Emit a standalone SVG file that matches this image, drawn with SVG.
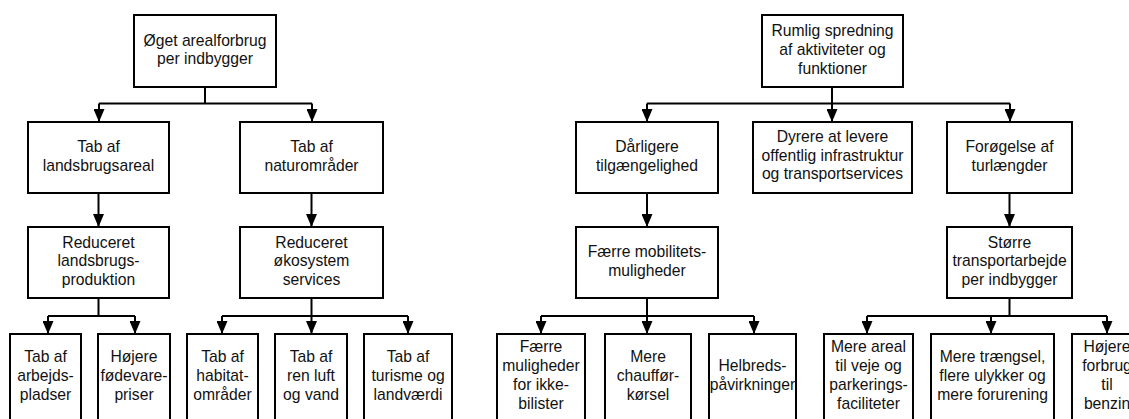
<svg xmlns="http://www.w3.org/2000/svg" width="1129" height="419" viewBox="0 0 1129 419">
  <defs>
    <marker id="arrow" markerUnits="userSpaceOnUse" markerWidth="13" markerHeight="11" viewBox="0 0 13 11" refX="13" refY="5.5" orient="auto">
      <path d="M0,0 L13,5.5 L0,11 z" fill="#000"/>
    </marker>
    <style>
      .box { fill: #fff; stroke: #000; stroke-width: 2; }
      .lbl { font-family: "Liberation Sans", Arial, sans-serif; font-size: 15.7px; fill: #111; text-anchor: middle; }
      .wire { fill: none; stroke: #000; stroke-width: 2; }
      .arr { fill: none; stroke: #000; stroke-width: 2; marker-end: url(#arrow); }
    </style>
  </defs>
  <rect width="1129" height="419" fill="#fff"/>

  <!-- connectors -->
  <g id="connectors">
    <!-- left tree -->
    <path class="wire" d="M205,87 V103.5 M99,103.5 H312"/>
    <path class="arr" d="M99,103.5 V122"/>
    <path class="arr" d="M312,103.5 V122"/>
    <path class="arr" d="M98.5,193 V227"/>
    <path class="arr" d="M311.5,193 V227"/>
    <path class="wire" d="M98.5,298 V316 M48,316 H135"/>
    <path class="arr" d="M48,316 V334"/>
    <path class="arr" d="M135,316 V334"/>
    <path class="wire" d="M311.5,298 V316 M222,316 H408"/>
    <path class="arr" d="M222,316 V334"/>
    <path class="arr" d="M311.5,316 V334"/>
    <path class="arr" d="M408,316 V334"/>
    <!-- right tree -->
    <path class="wire" d="M832,87 V103.5 M647,103.5 H1010"/>
    <path class="arr" d="M647,103.5 V122"/>
    <path class="arr" d="M832,103.5 V122"/>
    <path class="arr" d="M1010,103.5 V122"/>
    <path class="arr" d="M647,193 V227"/>
    <path class="arr" d="M1009.5,193 V227"/>
    <path class="wire" d="M647,298 V316 M541,316 H754"/>
    <path class="arr" d="M541,316 V334"/>
    <path class="arr" d="M647,316 V334"/>
    <path class="arr" d="M754,316 V334"/>
    <path class="wire" d="M1009.5,298 V316 M867,316 H1107"/>
    <path class="arr" d="M867,316 V334"/>
    <path class="arr" d="M991,316 V334"/>
    <path class="arr" d="M1107,316 V334"/>
  </g>

  <!-- left tree nodes -->
  <g id="n-areal">
    <rect class="box" x="134" y="15" width="142" height="72"/>
    <text class="lbl" x="205" y="46">Øget arealforbrug</text>
    <text class="lbl" x="205" y="64">per indbygger</text>
  </g>
  <g id="n-landbrugsareal">
    <rect class="box" x="28" y="122" width="141" height="71"/>
    <text class="lbl" x="98.5" y="152">Tab af</text>
    <text class="lbl" x="98.5" y="171">landsbrugsareal</text>
  </g>
  <g id="n-naturomraader">
    <rect class="box" x="240" y="122" width="143" height="71"/>
    <text class="lbl" x="311.5" y="152">Tab af</text>
    <text class="lbl" x="311.5" y="171">naturområder</text>
  </g>
  <g id="n-landbrugsproduktion">
    <rect class="box" x="28" y="227" width="141" height="71"/>
    <text class="lbl" x="98.5" y="247.5">Reduceret</text>
    <text class="lbl" x="98.5" y="266.3">landsbrugs-</text>
    <text class="lbl" x="98.5" y="285">produktion</text>
  </g>
  <g id="n-oekosystem">
    <rect class="box" x="240" y="227" width="143" height="71"/>
    <text class="lbl" x="311.5" y="247.5">Reduceret</text>
    <text class="lbl" x="311.5" y="266.3">økosystem</text>
    <text class="lbl" x="311.5" y="285">services</text>
  </g>
  <g id="n-arbejdspladser">
    <rect class="box" x="10" y="334" width="71" height="100"/>
    <text class="lbl" x="45.5" y="361.5">Tab af</text>
    <text class="lbl" x="45.5" y="380.5">arbejds-</text>
    <text class="lbl" x="45.5" y="399.5">pladser</text>
  </g>
  <g id="n-foedevarepriser">
    <rect class="box" x="98" y="334" width="72" height="100"/>
    <text class="lbl" x="134" y="361.5">Højere</text>
    <text class="lbl" x="134" y="380.5">fødevare-</text>
    <text class="lbl" x="134" y="399.5">priser</text>
  </g>
  <g id="n-habitat">
    <rect class="box" x="187" y="334" width="71" height="100"/>
    <text class="lbl" x="222.5" y="361.5">Tab af</text>
    <text class="lbl" x="222.5" y="380.5">habitat-</text>
    <text class="lbl" x="222.5" y="399.5">områder</text>
  </g>
  <g id="n-luft-vand">
    <rect class="box" x="275" y="334" width="72" height="100"/>
    <text class="lbl" x="311" y="361.5">Tab af</text>
    <text class="lbl" x="311" y="380.5">ren luft</text>
    <text class="lbl" x="311" y="399.5">og vand</text>
  </g>
  <g id="n-turisme">
    <rect class="box" x="364" y="334" width="88" height="100"/>
    <text class="lbl" x="408" y="361.5">Tab af</text>
    <text class="lbl" x="408" y="380.5">turisme og</text>
    <text class="lbl" x="408" y="399.5">landværdi</text>
  </g>

  <!-- right tree nodes -->
  <g id="n-spredning">
    <rect class="box" x="762" y="15" width="141" height="72"/>
    <text class="lbl" x="832.5" y="36.3">Rumlig spredning</text>
    <text class="lbl" x="832.5" y="55">af aktiviteter og</text>
    <text class="lbl" x="832.5" y="73.7">funktioner</text>
  </g>
  <g id="n-tilgaengelighed">
    <rect class="box" x="576" y="122" width="142" height="71"/>
    <text class="lbl" x="647" y="152">Dårligere</text>
    <text class="lbl" x="647" y="171">tilgængelighed</text>
  </g>
  <g id="n-infrastruktur">
    <rect class="box" x="753" y="122" width="159" height="71"/>
    <text class="lbl" x="832.5" y="142">Dyrere at levere</text>
    <text class="lbl" x="832.5" y="160.7">offentlig infrastruktur</text>
    <text class="lbl" x="832.5" y="179.4">og transportservices</text>
  </g>
  <g id="n-turlaengder">
    <rect class="box" x="947" y="122" width="125" height="71"/>
    <text class="lbl" x="1009.5" y="152">Forøgelse af</text>
    <text class="lbl" x="1009.5" y="171">turlængder</text>
  </g>
  <g id="n-mobilitet">
    <rect class="box" x="576" y="227" width="142" height="71"/>
    <text class="lbl" x="647" y="257">Færre mobilitets-</text>
    <text class="lbl" x="647" y="276">muligheder</text>
  </g>
  <g id="n-transportarbejde">
    <rect class="box" x="947" y="227" width="125" height="71"/>
    <text class="lbl" x="1009.5" y="247.5">Større</text>
    <text class="lbl" x="1009.5" y="266.3">transportarbejde</text>
    <text class="lbl" x="1009.5" y="285">per indbygger</text>
  </g>
  <g id="n-ikke-bilister">
    <rect class="box" x="497" y="334" width="88" height="100"/>
    <text class="lbl" x="541" y="352">Færre</text>
    <text class="lbl" x="541" y="371">muligheder</text>
    <text class="lbl" x="541" y="390">for ikke-</text>
    <text class="lbl" x="541" y="409">bilister</text>
  </g>
  <g id="n-chauffoer">
    <rect class="box" x="605" y="334" width="86" height="100"/>
    <text class="lbl" x="648" y="361.5">Mere</text>
    <text class="lbl" x="648" y="380.5">chauffør-</text>
    <text class="lbl" x="648" y="399.5">kørsel</text>
  </g>
  <g id="n-helbred">
    <rect class="box" x="709" y="334" width="87" height="100"/>
    <text class="lbl" x="752.5" y="371">Helbreds-</text>
    <text class="lbl" x="752.5" y="390">påvirkninger</text>
  </g>
  <g id="n-areal-veje">
    <rect class="box" x="824" y="334" width="89" height="100"/>
    <text class="lbl" x="868.5" y="352">Mere areal</text>
    <text class="lbl" x="868.5" y="371">til veje og</text>
    <text class="lbl" x="868.5" y="390">parkerings-</text>
    <text class="lbl" x="868.5" y="409">faciliteter</text>
  </g>
  <g id="n-traengsel">
    <rect class="box" x="931" y="334" width="123" height="100"/>
    <text class="lbl" x="992.5" y="361.5">Mere trængsel,</text>
    <text class="lbl" x="992.5" y="380.5">flere ulykker og</text>
    <text class="lbl" x="992.5" y="399.5">mere forurening</text>
  </g>
  <g id="n-benzin">
    <rect class="box" x="1072" y="334" width="70" height="100"/>
    <text class="lbl" x="1107" y="352">Højere</text>
    <text class="lbl" x="1107" y="371">forbrug</text>
    <text class="lbl" x="1107" y="390">til</text>
    <text class="lbl" x="1107" y="409">benzin</text>
  </g>
</svg>
